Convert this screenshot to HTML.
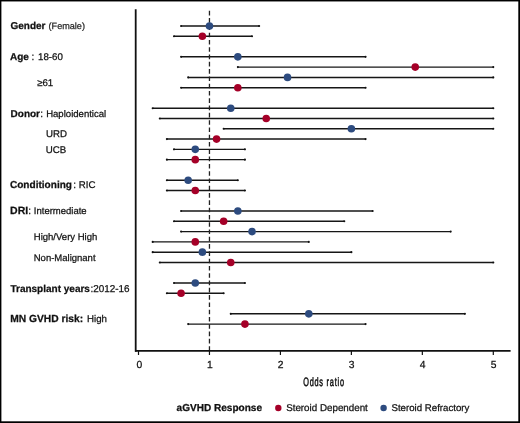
<!DOCTYPE html>
<html><head><meta charset="utf-8"><style>
html,body{margin:0;padding:0;background:#fff;}
body{width:520px;height:423px;overflow:hidden;}
svg{display:block;will-change:transform;}
.t{font-family:"Liberation Sans",sans-serif;font-size:10px;fill:#111;stroke:#111;stroke-width:0.25px;text-rendering:geometricPrecision;}
.b{font-weight:bold;}
</style></head><body>
<svg width="520" height="423" viewBox="0 0 520 423">
<rect x="0" y="0" width="520" height="423" fill="#fff"/>
<line x1="181.08" y1="26.00" x2="259.13" y2="26.00" stroke="#161616" stroke-width="1.45"/>
<circle cx="181.08" cy="26.00" r="1.05" fill="#111"/>
<circle cx="259.13" cy="26.00" r="1.05" fill="#111"/>
<line x1="173.98" y1="36.28" x2="252.04" y2="36.28" stroke="#161616" stroke-width="1.45"/>
<circle cx="173.98" cy="36.28" r="1.05" fill="#111"/>
<circle cx="252.04" cy="36.28" r="1.05" fill="#111"/>
<line x1="181.08" y1="56.84" x2="365.57" y2="56.84" stroke="#161616" stroke-width="1.45"/>
<circle cx="181.08" cy="56.84" r="1.05" fill="#111"/>
<circle cx="365.57" cy="56.84" r="1.05" fill="#111"/>
<line x1="237.84" y1="67.12" x2="493.30" y2="67.12" stroke="#161616" stroke-width="1.45"/>
<circle cx="237.84" cy="67.12" r="1.05" fill="#111"/>
<circle cx="493.30" cy="67.12" r="1.05" fill="#111"/>
<line x1="188.17" y1="77.40" x2="493.30" y2="77.40" stroke="#161616" stroke-width="1.45"/>
<circle cx="188.17" cy="77.40" r="1.05" fill="#111"/>
<circle cx="493.30" cy="77.40" r="1.05" fill="#111"/>
<line x1="181.08" y1="87.68" x2="365.57" y2="87.68" stroke="#161616" stroke-width="1.45"/>
<circle cx="181.08" cy="87.68" r="1.05" fill="#111"/>
<circle cx="365.57" cy="87.68" r="1.05" fill="#111"/>
<line x1="152.69" y1="108.24" x2="493.30" y2="108.24" stroke="#161616" stroke-width="1.45"/>
<circle cx="152.69" cy="108.24" r="1.05" fill="#111"/>
<circle cx="493.30" cy="108.24" r="1.05" fill="#111"/>
<line x1="159.79" y1="118.52" x2="493.30" y2="118.52" stroke="#161616" stroke-width="1.45"/>
<circle cx="159.79" cy="118.52" r="1.05" fill="#111"/>
<circle cx="493.30" cy="118.52" r="1.05" fill="#111"/>
<line x1="223.65" y1="128.80" x2="493.30" y2="128.80" stroke="#161616" stroke-width="1.45"/>
<circle cx="223.65" cy="128.80" r="1.05" fill="#111"/>
<circle cx="493.30" cy="128.80" r="1.05" fill="#111"/>
<line x1="166.88" y1="139.08" x2="365.57" y2="139.08" stroke="#161616" stroke-width="1.45"/>
<circle cx="166.88" cy="139.08" r="1.05" fill="#111"/>
<circle cx="365.57" cy="139.08" r="1.05" fill="#111"/>
<line x1="173.98" y1="149.36" x2="244.94" y2="149.36" stroke="#161616" stroke-width="1.45"/>
<circle cx="173.98" cy="149.36" r="1.05" fill="#111"/>
<circle cx="244.94" cy="149.36" r="1.05" fill="#111"/>
<line x1="166.88" y1="159.64" x2="244.94" y2="159.64" stroke="#161616" stroke-width="1.45"/>
<circle cx="166.88" cy="159.64" r="1.05" fill="#111"/>
<circle cx="244.94" cy="159.64" r="1.05" fill="#111"/>
<line x1="166.88" y1="180.20" x2="237.84" y2="180.20" stroke="#161616" stroke-width="1.45"/>
<circle cx="166.88" cy="180.20" r="1.05" fill="#111"/>
<circle cx="237.84" cy="180.20" r="1.05" fill="#111"/>
<line x1="166.88" y1="190.48" x2="244.94" y2="190.48" stroke="#161616" stroke-width="1.45"/>
<circle cx="166.88" cy="190.48" r="1.05" fill="#111"/>
<circle cx="244.94" cy="190.48" r="1.05" fill="#111"/>
<line x1="181.08" y1="211.04" x2="372.67" y2="211.04" stroke="#161616" stroke-width="1.45"/>
<circle cx="181.08" cy="211.04" r="1.05" fill="#111"/>
<circle cx="372.67" cy="211.04" r="1.05" fill="#111"/>
<line x1="173.98" y1="221.32" x2="344.28" y2="221.32" stroke="#161616" stroke-width="1.45"/>
<circle cx="173.98" cy="221.32" r="1.05" fill="#111"/>
<circle cx="344.28" cy="221.32" r="1.05" fill="#111"/>
<line x1="181.08" y1="231.60" x2="450.72" y2="231.60" stroke="#161616" stroke-width="1.45"/>
<circle cx="181.08" cy="231.60" r="1.05" fill="#111"/>
<circle cx="450.72" cy="231.60" r="1.05" fill="#111"/>
<line x1="152.69" y1="241.88" x2="308.80" y2="241.88" stroke="#161616" stroke-width="1.45"/>
<circle cx="152.69" cy="241.88" r="1.05" fill="#111"/>
<circle cx="308.80" cy="241.88" r="1.05" fill="#111"/>
<line x1="152.69" y1="252.16" x2="351.38" y2="252.16" stroke="#161616" stroke-width="1.45"/>
<circle cx="152.69" cy="252.16" r="1.05" fill="#111"/>
<circle cx="351.38" cy="252.16" r="1.05" fill="#111"/>
<line x1="159.79" y1="262.44" x2="493.30" y2="262.44" stroke="#161616" stroke-width="1.45"/>
<circle cx="159.79" cy="262.44" r="1.05" fill="#111"/>
<circle cx="493.30" cy="262.44" r="1.05" fill="#111"/>
<line x1="173.98" y1="283.00" x2="244.94" y2="283.00" stroke="#161616" stroke-width="1.45"/>
<circle cx="173.98" cy="283.00" r="1.05" fill="#111"/>
<circle cx="244.94" cy="283.00" r="1.05" fill="#111"/>
<line x1="166.88" y1="293.28" x2="223.65" y2="293.28" stroke="#161616" stroke-width="1.45"/>
<circle cx="166.88" cy="293.28" r="1.05" fill="#111"/>
<circle cx="223.65" cy="293.28" r="1.05" fill="#111"/>
<line x1="230.75" y1="313.84" x2="464.92" y2="313.84" stroke="#161616" stroke-width="1.45"/>
<circle cx="230.75" cy="313.84" r="1.05" fill="#111"/>
<circle cx="464.92" cy="313.84" r="1.05" fill="#111"/>
<line x1="188.17" y1="324.12" x2="365.57" y2="324.12" stroke="#161616" stroke-width="1.45"/>
<circle cx="188.17" cy="324.12" r="1.05" fill="#111"/>
<circle cx="365.57" cy="324.12" r="1.05" fill="#111"/>
<line x1="209.46" y1="10.8" x2="209.46" y2="350" stroke="#222" stroke-width="1.3" stroke-dasharray="4.6 2.69"/>
<circle cx="209.46" cy="26.00" r="3.8" fill="#2d4b7f"/>
<circle cx="202.36" cy="36.28" r="3.8" fill="#a50028"/>
<circle cx="237.84" cy="56.84" r="3.8" fill="#2d4b7f"/>
<circle cx="415.24" cy="67.12" r="3.8" fill="#a50028"/>
<circle cx="287.52" cy="77.40" r="3.8" fill="#2d4b7f"/>
<circle cx="237.84" cy="87.68" r="3.8" fill="#a50028"/>
<circle cx="230.75" cy="108.24" r="3.8" fill="#2d4b7f"/>
<circle cx="266.23" cy="118.52" r="3.8" fill="#a50028"/>
<circle cx="351.38" cy="128.80" r="3.8" fill="#2d4b7f"/>
<circle cx="216.56" cy="139.08" r="3.8" fill="#a50028"/>
<circle cx="195.27" cy="149.36" r="3.8" fill="#2d4b7f"/>
<circle cx="195.27" cy="159.64" r="3.8" fill="#a50028"/>
<circle cx="188.17" cy="180.20" r="3.8" fill="#2d4b7f"/>
<circle cx="195.27" cy="190.48" r="3.8" fill="#a50028"/>
<circle cx="237.84" cy="211.04" r="3.8" fill="#2d4b7f"/>
<circle cx="223.65" cy="221.32" r="3.8" fill="#a50028"/>
<circle cx="252.04" cy="231.60" r="3.8" fill="#2d4b7f"/>
<circle cx="195.27" cy="241.88" r="3.8" fill="#a50028"/>
<circle cx="202.36" cy="252.16" r="3.8" fill="#2d4b7f"/>
<circle cx="230.75" cy="262.44" r="3.8" fill="#a50028"/>
<circle cx="195.27" cy="283.00" r="3.8" fill="#2d4b7f"/>
<circle cx="181.08" cy="293.28" r="3.8" fill="#a50028"/>
<circle cx="308.80" cy="313.84" r="3.8" fill="#2d4b7f"/>
<circle cx="244.94" cy="324.12" r="3.8" fill="#a50028"/>
<line x1="135.7" y1="9.3" x2="135.7" y2="351.7" stroke="#111" stroke-width="1.8"/>
<line x1="135" y1="350.9" x2="510.6" y2="350.9" stroke="#111" stroke-width="1.8"/>
<line x1="138.50" y1="351" x2="138.50" y2="355" stroke="#111" stroke-width="1.2"/>
<text x="139.40" y="368.4" text-anchor="middle" class="t" style="font-size:10.3px">0</text>
<line x1="209.46" y1="351" x2="209.46" y2="355" stroke="#111" stroke-width="1.2"/>
<text x="209.76" y="368.4" text-anchor="middle" class="t" style="font-size:10.3px">1</text>
<line x1="280.42" y1="351" x2="280.42" y2="355" stroke="#111" stroke-width="1.2"/>
<text x="280.72" y="368.4" text-anchor="middle" class="t" style="font-size:10.3px">2</text>
<line x1="351.38" y1="351" x2="351.38" y2="355" stroke="#111" stroke-width="1.2"/>
<text x="351.68" y="368.4" text-anchor="middle" class="t" style="font-size:10.3px">3</text>
<line x1="422.34" y1="351" x2="422.34" y2="355" stroke="#111" stroke-width="1.2"/>
<text x="422.64" y="368.4" text-anchor="middle" class="t" style="font-size:10.3px">4</text>
<line x1="493.30" y1="351" x2="493.30" y2="355" stroke="#111" stroke-width="1.2"/>
<text x="493.60" y="368.4" text-anchor="middle" class="t" style="font-size:10.3px">5</text>
<text x="10.45" y="29.20" class="t b" style="font-size:10.00px">Gender</text>
<text x="48.55" y="29.20" class="t" style="font-size:9.10px;fill:#2a2a2a;stroke:#2a2a2a">(Female)</text>
<text x="10.00" y="60.00" class="t b" style="font-size:10.00px">Age</text>
<text x="31.55" y="60.00" class="t" style="font-size:10.00px">:</text>
<text x="38.00" y="60.00" class="t" style="font-size:9.70px">18-60</text>
<text x="37.15" y="85.50" class="t" style="font-size:9.70px">≥61</text>
<text x="10.55" y="116.70" class="t b" style="font-size:10.00px">Donor</text>
<text x="40.35" y="116.70" class="t" style="font-size:10.00px">:</text>
<text x="46.15" y="116.70" class="t" style="font-size:9.57px">Haploidentical</text>
<text x="46.00" y="137.00" class="t" style="font-size:9.70px">URD</text>
<text x="45.75" y="152.70" class="t" style="font-size:9.70px">UCB</text>
<text x="9.95" y="188.40" class="t b" style="font-size:10.07px">Conditioning</text>
<text x="73.15" y="188.40" class="t" style="font-size:10.00px">:</text>
<text x="78.75" y="188.40" class="t" style="font-size:9.70px">RIC</text>
<text x="10.05" y="214.20" class="t b" style="font-size:10.50px">DRI</text>
<text x="28.25" y="214.20" class="t" style="font-size:10.00px">:</text>
<text x="33.85" y="214.20" class="t" style="font-size:9.50px">Intermediate</text>
<text x="33.75" y="240.20" class="t" style="font-size:9.54px">High/Very High</text>
<text x="33.75" y="260.60" class="t" style="font-size:9.50px">Non-Malignant</text>
<text x="10.45" y="291.70" class="t b" style="font-size:10.00px">Transplant years</text>
<text x="90.45" y="291.70" class="t" style="font-size:10.00px">:</text>
<text x="93.15" y="291.70" class="t" style="font-size:9.92px">2012-16</text>
<text x="10.25" y="322.10" class="t b" style="font-size:10.25px">MN GVHD risk:</text>
<text x="87.05" y="322.10" class="t" style="font-size:9.70px">High</text>
<text x="176.55" y="411.40" class="t b" style="font-size:10.06px">aGVHD Response</text>
<text x="286.15" y="411.40" class="t" style="font-size:9.80px">Steroid Dependent</text>
<text x="391.45" y="411.40" class="t" style="font-size:9.68px">Steroid Refractory</text>
<text x="0" y="385.6" class="t" style="font-size:12.2px;letter-spacing:1.3px;stroke-width:0.55px" transform="translate(303.2 0) scale(0.6 1)">Odds ratio</text>
<circle cx="278.3" cy="408" r="3.2" fill="#a50028"/>
<circle cx="383.6" cy="408" r="3.2" fill="#2d4b7f"/>

<rect x="0" y="0" width="520" height="1.45" fill="#000"/><rect x="0" y="0" width="1.4" height="423" fill="#000"/><rect x="518.3" y="0" width="1.7" height="423" fill="#000"/><rect x="0" y="421.3" width="520" height="1.7" fill="#000"/>
</svg>
</body></html>
